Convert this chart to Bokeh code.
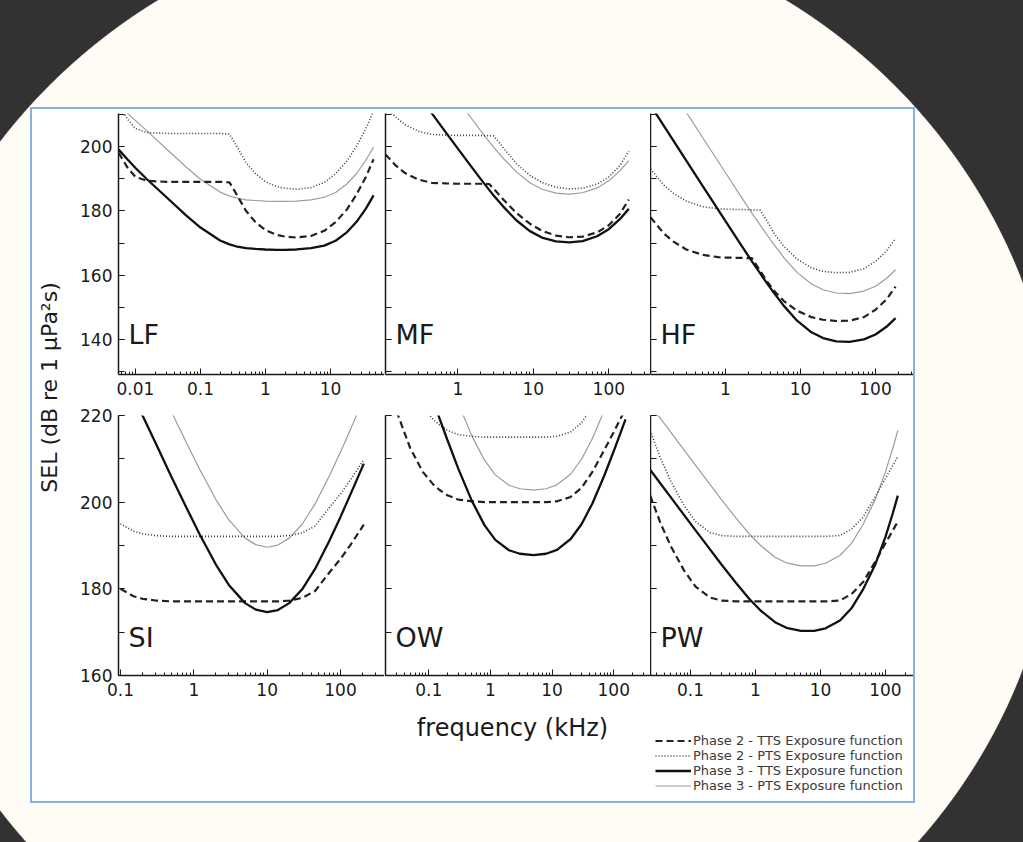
import math
import numpy as np
from bokeh.plotting import figure
from bokeh.models import (Range1d, FixedTicker, SingleIntervalTicker, CustomJSTickFormatter,
                          Label, Legend, LegendItem)
from bokeh.layouts import row, column
from bokeh.embed import file_html
from bokeh.resources import INLINE

nan = float("nan")

# ---------------- data ----------------
LF_FREQ = [0.0055, 0.0075, 0.01, 0.015, 0.03, 0.06, 0.1, 0.2, 0.28, 0.35, 0.5, 0.7, 1, 1.5, 2, 3, 5, 8, 12, 18, 25, 35, 46]
LF_P2_TTS = [198.0, 193.5, 190.5, 189.3, 189.0, 189.0, 189.0, 189.0, 188.8, 185.5, 180.0, 176.5, 174.0, 172.5, 172.0, 171.7, 172.2, 173.8, 176.5, 180.5, 185.0, 190.5, 196.0]
LF_P2_PTS = [213.0, 208.5, 205.5, 204.3, 204.0, 204.0, 204.0, 204.0, 203.8, 200.5, 195.0, 191.5, 189.0, 187.5, 187.0, 186.7, 187.2, 188.8, 191.5, 195.5, 200.0, 205.5, 211.0]
LF_P3_TTS = [199.0, 196.0, 193.3, 189.8, 184.2, 178.6, 174.8, 170.8, 169.6, 169.0, 168.4, 168.2, 168.0, 167.9, 167.9, 168.0, 168.4, 169.2, 170.7, 173.4, 176.5, 180.7, 184.8]
LF_P3_PTS = [213.0, 210.3, 208.0, 204.8, 199.2, 193.6, 189.8, 185.8, 184.6, 184.0, 183.4, 183.2, 183.0, 182.9, 182.9, 183.0, 183.4, 184.2, 185.7, 188.4, 191.5, 195.7, 199.8]

MF_FREQ = [0.11, 0.15, 0.2, 0.3, 0.45, 0.7, 1, 1.5, 2, 2.6, 3, 4, 6, 9, 13, 20, 30, 45, 70, 100, 140, 184]
MF_P2_TTS = [197.5, 194.1, 191.7, 189.7, 188.7, 188.5, 188.4, 188.4, 188.4, 188.3, 186.8, 183.5, 179.3, 176.0, 173.8, 172.3, 171.8, 172.0, 173.3, 175.5, 179.0, 183.5]
MF_P2_PTS = [212.5, 209.1, 206.7, 204.7, 203.7, 203.5, 203.4, 203.4, 203.4, 203.3, 203.2, 199.6, 194.6, 191.0, 188.8, 187.3, 186.8, 187.0, 188.3, 190.5, 194.0, 198.5]
MF_P3_TTS = [nan, nan, nan, 216.0, 210.3, 204.2, 199.3, 193.8, 189.9, 186.5, 184.7, 181.3, 177.0, 173.7, 171.7, 170.5, 170.2, 170.6, 172.1, 174.3, 177.4, 180.6]
MF_P3_PTS = [nan, nan, nan, nan, nan, nan, 214.3, 208.8, 204.9, 201.5, 199.7, 196.3, 192.0, 188.7, 186.7, 185.5, 185.2, 185.6, 187.1, 189.3, 192.4, 195.6]

HF_FREQ = [0.1, 0.15, 0.2, 0.3, 0.5, 0.8, 1, 1.5, 2.25, 2.9, 3.5, 4.5, 6, 9, 14, 20, 30, 45, 70, 100, 140, 185]
HF_P2_TTS = [178.0, 173.0, 170.5, 168.0, 166.3, 165.6, 165.5, 165.4, 165.3, 161.4, 158.4, 155.0, 152.0, 149.0, 147.0, 146.2, 145.8, 145.9, 147.0, 149.3, 152.5, 156.5]
HF_P2_PTS = [193.0, 188.0, 185.5, 183.0, 181.3, 180.6, 180.5, 180.4, 180.3, 180.2, 177.2, 172.8, 169.0, 165.0, 162.3, 161.2, 160.8, 160.9, 162.0, 164.3, 167.5, 171.5]
HF_P3_TTS = [212.8, 206.4, 201.9, 195.6, 187.6, 180.3, 176.8, 170.5, 164.3, 160.6, 157.8, 154.3, 150.5, 145.9, 142.3, 140.5, 139.5, 139.3, 140.1, 141.6, 144.0, 146.7]
HF_P3_PTS = [nan, nan, 216.9, 210.6, 202.6, 195.3, 191.8, 185.5, 179.3, 175.6, 172.8, 169.3, 165.5, 160.9, 157.3, 155.5, 154.5, 154.3, 155.1, 156.6, 159.0, 161.7]

SI_FREQ = [0.1, 0.15, 0.2, 0.3, 0.5, 0.8, 1.2, 2, 3, 5, 7, 10, 14, 20, 30, 45, 70, 100, 140, 208]
SI_P2_TTS = [180.0, 178.3, 177.7, 177.3, 177.1, 177.1, 177.1, 177.1, 177.1, 177.1, 177.1, 177.1, 177.1, 177.3, 177.9, 179.5, 183.7, 186.9, 190.4, 194.8]
SI_P2_PTS = [195.0, 193.3, 192.7, 192.3, 192.1, 192.1, 192.1, 192.1, 192.1, 192.1, 192.1, 192.1, 192.1, 192.3, 192.9, 194.5, 198.7, 201.9, 205.4, 209.8]
SI_P3_TTS = [nan, 224.5, 220.0, 213.7, 205.7, 198.6, 192.6, 185.6, 180.9, 176.7, 175.2, 174.6, 175.1, 176.7, 179.9, 184.6, 191.0, 196.6, 202.2, 208.9]
SI_P3_PTS = [nan, nan, nan, 228.7, 220.7, 213.6, 207.6, 200.6, 195.9, 191.7, 190.2, 189.6, 190.1, 191.7, 194.9, 199.6, 206.0, 211.6, 217.2, 223.9]

OW_FREQ = [0.02, 0.03, 0.05, 0.08, 0.12, 0.15, 0.2, 0.3, 0.5, 0.8, 1.2, 2, 3, 5, 8, 12, 20, 30, 45, 70, 100, 155]
OW_P2_TTS = [nan, 221.0, 212.5, 207.0, 204.0, 202.8, 201.6, 200.6, 200.2, 200.0, 200.0, 200.0, 200.0, 200.0, 200.0, 200.2, 201.2, 203.3, 207.0, 212.0, 216.2, 221.5]
OW_P2_PTS = [nan, nan, nan, 222.0, 219.0, 217.8, 216.6, 215.6, 215.2, 215.0, 215.0, 215.0, 215.0, 215.0, 215.0, 215.2, 216.2, 218.3, 222.0, nan, nan, nan]
OW_P3_TTS = [nan, nan, nan, nan, 223.0, 219.3, 214.4, 207.8, 200.3, 194.7, 191.3, 188.9, 188.1, 187.8, 188.1, 189.0, 191.5, 194.9, 199.7, 206.1, 211.8, 219.1]
OW_P3_PTS = [nan, nan, nan, nan, nan, nan, 229.4, 222.8, 215.3, 209.7, 206.3, 203.9, 203.1, 202.8, 203.1, 204.0, 206.5, 209.9, 214.7, 221.1, nan, nan]

PW_FREQ = [0.024, 0.035, 0.05, 0.08, 0.12, 0.2, 0.3, 0.5, 0.8, 1.2, 2, 3, 5, 8, 12, 20, 30, 45, 70, 100, 130, 155]
PW_P2_TTS = [201.5, 195.0, 189.8, 184.2, 180.5, 178.0, 177.3, 177.1, 177.1, 177.1, 177.1, 177.1, 177.1, 177.1, 177.1, 177.3, 178.8, 181.5, 186.3, 190.5, 193.5, 195.5]
PW_P2_PTS = [216.5, 210.0, 204.8, 199.2, 195.5, 193.0, 192.3, 192.1, 192.1, 192.1, 192.1, 192.1, 192.1, 192.1, 192.1, 192.3, 193.8, 196.5, 201.3, 205.5, 208.5, 210.5]
PW_P3_TTS = [207.5, 204.2, 201.1, 197.0, 193.5, 189.1, 185.6, 181.4, 177.7, 175.0, 172.3, 171.0, 170.3, 170.3, 170.9, 172.7, 175.5, 179.8, 185.7, 192.0, 197.5, 201.5]
PW_P3_PTS = [222.5, 219.2, 216.1, 212.0, 208.5, 204.1, 200.6, 196.4, 192.7, 190.0, 187.3, 186.0, 185.3, 185.3, 185.9, 187.7, 190.5, 194.8, 200.7, 207.0, 212.5, 216.5]

PANEL_NAMES = ["LF", "MF", "HF", "SI", "OW", "PW"]
X_TICK_LABELS = {
    "LF": [0.01, 0.1, 1, 10],
    "MF": [1, 10, 100],
    "HF": [1, 10, 100],
    "SI": [0.1, 1, 10, 100],
    "OW": [0.1, 1, 10, 100],
    "PW": [0.1, 1, 10, 100],
}
SERIES_LABELS = ["Phase 2 - TTS Exposure function", "Phase 2 - PTS Exposure function",
                 "Phase 3 - TTS Exposure function", "Phase 3 - PTS Exposure function"]
Y_LABEL = "SEL (dB re 1 \u03bcPa\u00b2s)"
X_LABEL = "frequency (kHz)"

DATA = {
    "LF": (LF_FREQ, LF_P2_TTS, LF_P2_PTS, LF_P3_TTS, LF_P3_PTS),
    "MF": (MF_FREQ, MF_P2_TTS, MF_P2_PTS, MF_P3_TTS, MF_P3_PTS),
    "HF": (HF_FREQ, HF_P2_TTS, HF_P2_PTS, HF_P3_TTS, HF_P3_PTS),
    "SI": (SI_FREQ, SI_P2_TTS, SI_P2_PTS, SI_P3_TTS, SI_P3_PTS),
    "OW": (OW_FREQ, OW_P2_TTS, OW_P2_PTS, OW_P3_TTS, OW_P3_PTS),
    "PW": (PW_FREQ, PW_P2_TTS, PW_P2_PTS, PW_P3_TTS, PW_P3_PTS),
}

# ---------------- layout / style ----------------
FONT = "DejaVu Sans"
INK = "#1a1a1a"
# name: (x range, y range, frame w, frame h, border l, border t, border b, label x, label y)
GEOM = {
    "LF": ((0.00548, 67.7), (129.2, 210.2), 266, 261, 46, 4, 31, 0.0078, 141.6),
    "MF": ((0.110, 357.0), (129.2, 210.2), 265, 261, 1, 4, 31, 0.149, 141.6),
    "HF": ((0.100, 321.0), (129.2, 210.2), 263, 261, 0, 4, 31, 0.136, 141.6),
    "SI": ((0.094, 398.0), (160.0, 220.0), 266, 260, 46, 10, 25, 0.1287, 168.8),
    "OW": ((0.0199, 394.0), (160.0, 220.0), 265, 260, 1, 10, 25, 0.0289, 168.8),
    "PW": ((0.0243, 270.0), (160.0, 220.0), 263, 260, 0, 10, 25, 0.0346, 168.8),
}
STYLES = [
    dict(line_color="#222222", line_width=2.2, line_dash="7 4"),   # P2 TTS
    dict(line_color="#3a3a3a", line_width=1.6, line_dash="1 2"),   # P2 PTS
    dict(line_color="#111111", line_width=2.3),                    # P3 TTS
    dict(line_color="#9c9c9c", line_width=1.2),                    # P3 PTS
]
DRAW_ORDER = [3, 1, 0, 2]

MINOR = [k * 10.0 ** e for e in range(-3, 3) for k in range(2, 10)]


def make_panel(name):
    (xr, yr, fw, fh, bl, bt, bb, lx, ly) = GEOM[name]
    p = figure(x_axis_type="log", x_range=Range1d(*xr), y_range=Range1d(*yr),
               frame_width=fw, frame_height=fh,
               min_border_left=bl, min_border_right=0, min_border_top=bt, min_border_bottom=bb,
               toolbar_location=None, output_backend="svg",
               background_fill_color=None, border_fill_color=None, outline_line_color=None)
    p.xgrid.visible = False
    p.ygrid.visible = False
    freq, *series = DATA[name]
    f = np.array(freq, dtype=float)
    for i in DRAW_ORDER:
        p.line(f, np.array(series[i], dtype=float), **STYLES[i])

    xa = p.xaxis[0]
    xa.ticker = FixedTicker(ticks=X_TICK_LABELS[name], minor_ticks=MINOR)
    xa.formatter = CustomJSTickFormatter(code="return tick.toString();")
    ya = p.yaxis[0]
    ya.ticker = SingleIntervalTicker(interval=20, num_minor_ticks=2)
    if name not in ("LF", "SI"):
        ya.formatter = CustomJSTickFormatter(code="return '';")
        ya.major_label_standoff = 0
    else:
        ya.major_label_standoff = 6
    xa.major_label_standoff = 7
    for ax in (xa, ya):
        ax.axis_line_width = 1.5
        ax.axis_line_color = INK
        ax.major_tick_line_color = INK
        ax.minor_tick_line_color = INK
        ax.major_tick_out = 0
        ax.minor_tick_out = 0
        ax.major_label_text_font = FONT
        ax.major_label_text_font_size = "17px"
        ax.major_label_text_color = INK
    xa.major_tick_in = 6
    xa.minor_tick_in = 3
    ya.major_tick_in = 6
    ya.minor_tick_in = 6
    p.add_layout(Label(x=lx, y=ly, text=name, text_font=FONT, text_font_size="27px",
                       text_color=INK, text_align="left", text_baseline="middle"))
    return p


panels = {n: make_panel(n) for n in PANEL_NAMES}

# y-axis title figure
ylab = figure(width=40, height=692, x_range=Range1d(0, 40), y_range=Range1d(0, 692),
              x_axis_location=None, y_axis_location=None, min_border=0,
              toolbar_location=None, output_backend="svg",
              background_fill_color=None, border_fill_color=None, outline_line_color=None)
ylab.xgrid.visible = False
ylab.ygrid.visible = False
ylab.add_layout(Label(x=17, y=414, text=Y_LABEL, angle=math.pi / 2, text_font=FONT,
                      text_font_size="22px", text_color=INK, text_align="center",
                      text_baseline="middle"))

# bottom strip: x-axis title + legend (window-like coordinates)
bottom = figure(width=841, height=101, x_range=Range1d(72, 913), y_range=Range1d(801, 700),
                x_axis_location=None, y_axis_location=None, min_border=0,
                toolbar_location=None, output_backend="svg",
                background_fill_color=None, border_fill_color=None, outline_line_color=None)
bottom.xgrid.visible = False
bottom.ygrid.visible = False
bottom.add_layout(Label(x=512, y=727, text=X_LABEL, text_font=FONT, text_font_size="24px",
                        text_color=INK, text_align="center", text_baseline="middle"))
items = []
for lab, st in zip(SERIES_LABELS, STYLES):
    r = bottom.line(x=[nan, nan], y=[nan, nan], **st)
    items.append(LegendItem(label=lab, renderers=[r]))
legend = Legend(items=items, location=(583, 8), orientation="vertical",
                glyph_width=36, glyph_height=15, label_height=15, label_standoff=2,
                spacing=0, padding=0, margin=0, border_line_color=None,
                background_fill_alpha=0, label_text_font=FONT,
                label_text_font_size="13px", label_text_color="#3a3a3a")
bottom.add_layout(legend)

grid = column(row(panels["LF"], panels["MF"], panels["HF"]),
              row(panels["SI"], panels["OW"], panels["PW"]),
              bottom)
inner = row(ylab, grid, styles={"background-color": "#ffffff"}, margin=(2, 2, 2, 2))
box = column(inner, styles={"background-color": "#88b0de"}, margin=(107, 0, 0, 30))
page = column(box)

html = file_html(page, INLINE, title="SEL exposure functions")
css = ("<style>html{background:#323232 radial-gradient(ellipse 587px 564px at 472px 476px,"
       "#fffcf5 99.8%,#323232 100%) no-repeat;}body{background:transparent;}</style>")
html = html.replace("</head>", css + "</head>", 1)
open("out.html", "w").write(html)
